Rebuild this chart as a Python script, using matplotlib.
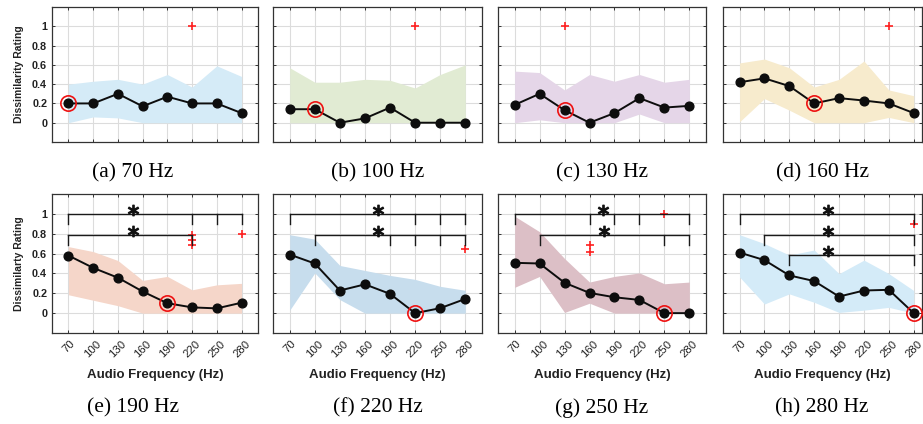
import matplotlib
matplotlib.use('Agg')
import matplotlib.pyplot as plt

plt.rcParams['font.family'] = ['Liberation Sans', 'DejaVu Sans']

freqs = [70, 100, 130, 160, 190, 220, 250, 280]
tick_labels = ['70', '100', '130', '160', '190', '220', '250', '280']
captions = ['(a) 70 Hz', '(b) 100 Hz', '(c) 130 Hz', '(d) 160 Hz',
            '(e) 190 Hz', '(f) 220 Hz', '(g) 250 Hz', '(h) 280 Hz']

# mean rating and shaded band, one set per reference frequency
mean_a = [0.20, 0.20, 0.30, 0.17, 0.27, 0.20, 0.20, 0.10]
hi_a = [0.40, 0.43, 0.45, 0.40, 0.50, 0.37, 0.59, 0.48]
lo_a = [0.00, 0.06, 0.05, 0.00, 0.00, 0.00, 0.00, 0.00]

mean_b = [0.14, 0.14, 0.00, 0.045, 0.157, 0.00, 0.00, 0.00]
hi_b = [0.57, 0.42, 0.42, 0.45, 0.44, 0.36, 0.50, 0.60]
lo_b = [0.00, 0.00, 0.00, 0.00, 0.00, 0.00, 0.00, 0.00]

mean_c = [0.185, 0.30, 0.13, 0.00, 0.10, 0.255, 0.157, 0.175]
hi_c = [0.535, 0.52, 0.34, 0.50, 0.43, 0.50, 0.42, 0.45]
lo_c = [0.00, 0.03, 0.00, 0.00, 0.00, 0.09, 0.00, 0.00]

mean_d = [0.42, 0.46, 0.38, 0.20, 0.255, 0.23, 0.20, 0.10]
hi_d = [0.62, 0.66, 0.57, 0.37, 0.45, 0.64, 0.34, 0.28]
lo_d = [0.01, 0.25, 0.13, 0.00, 0.00, 0.00, 0.055, 0.00]

mean_e = [0.58, 0.456, 0.357, 0.218, 0.10, 0.058, 0.048, 0.105]
hi_e = [0.67, 0.62, 0.53, 0.33, 0.37, 0.235, 0.285, 0.30]
lo_e = [0.185, 0.13, 0.075, 0.00, 0.00, 0.00, 0.00, 0.00]

mean_f = [0.59, 0.50, 0.228, 0.29, 0.194, 0.00, 0.05, 0.143]
hi_f = [0.79, 0.745, 0.48, 0.43, 0.38, 0.34, 0.27, 0.23]
lo_f = [0.03, 0.405, 0.136, 0.00, 0.00, 0.00, 0.00, 0.00]

mean_g = [0.507, 0.50, 0.306, 0.204, 0.16, 0.133, 0.00, 0.00]
hi_g = [0.976, 0.82, 0.55, 0.313, 0.37, 0.405, 0.296, 0.313]
lo_g = [0.26, 0.37, 0.007, 0.10, 0.00, 0.00, 0.00, 0.00]

mean_h = [0.61, 0.534, 0.38, 0.323, 0.167, 0.228, 0.235, 0.00]
hi_h = [0.79, 0.70, 0.585, 0.636, 0.398, 0.534, 0.398, 0.228]
lo_h = [0.364, 0.092, 0.194, 0.109, 0.007, 0.03, 0.058, 0.00]

fills = ['#d5ebf7', '#e1ebd3', '#e5d6e8', '#f7ebcd',
         '#f5d6c9', '#c7dded', '#dcbfc6', '#d4ebf8']

# index of circled (reference) point
best = [0, 1, 2, 3, 4, 5, 6, 7]

# outliers (frequency, rating)
out_a = [(220, 1.0)]
out_b = [(220, 1.0)]
out_c = [(130, 1.0)]
out_d = [(250, 1.0)]
out_e = [(220, 0.79), (220, 0.74), (220, 0.69), (280, 0.80)]
out_f = [(280, 0.65)]
out_g = [(160, 0.687), (160, 0.62), (250, 1.0)]
out_h = [(280, 0.90)]

# significance brackets: (height, tick freqs, star x)
br_e = [(1.0, [70, 220, 250, 280], 148), (0.79, [70, 220], 148)]
br_f = [(1.0, [70, 220, 250, 280], 175), (0.79, [100, 190, 220, 250, 280], 175)]
br_g = [(1.0, [70, 160, 190, 220, 280], 176), (0.79, [100, 250, 280], 177)]
br_h = [(1.0, [70, 280], 177), (0.79, [100, 280], 177), (0.585, [130, 280], 177)]

means = [mean_a, mean_b, mean_c, mean_d, mean_e, mean_f, mean_g, mean_h]
highs = [hi_a, hi_b, hi_c, hi_d, hi_e, hi_f, hi_g, hi_h]
lows = [lo_a, lo_b, lo_c, lo_d, lo_e, lo_f, lo_g, lo_h]
outs = [out_a, out_b, out_c, out_d, out_e, out_f, out_g, out_h]
brackets = [[], [], [], [], br_e, br_f, br_g, br_h]

W, H = 923, 424
fig = plt.figure(figsize=(W / 100, H / 100), dpi=100)

col_left = [52, 273, 498, 723]
col_w = [206, 209, 208, 199]
col_xmax = [300, 300, 300, 290]
row_top = [7, 194]
row_h = [135, 139]
cap_y = [173, 408]
cap_x = [133, 378, 602, 822]

for i in range(8):
    r, c = divmod(i, 4)
    ax = fig.add_axes([col_left[c] / W, 1 - (row_top[r] + row_h[r]) / H,
                       col_w[c] / W, row_h[r] / H])
    ax.fill_between(freqs, lows[i], highs[i], color=fills[i], lw=0, zorder=1)
    ax.plot(freqs, means[i], '-o', color='#0d0d0d', lw=1.4, ms=6.3, zorder=3)
    b = best[i]
    ax.plot(freqs[b], means[i][b], 'o', mfc='none', mec='#ee1111', ms=11, mew=1.2, zorder=4)
    if outs[i]:
        ox, oy = zip(*outs[i])
        ax.plot(ox, oy, '+', color='#ff2020', ms=6, mew=1.2, zorder=4)
    for y, xs, sx in brackets[i]:
        ax.plot([xs[0], xs[-1]], [y, y], color='#1a1a1a', lw=1.0, zorder=4)
        for x in xs:
            ax.plot([x, x], [y, y - 0.1], color='#1a1a1a', lw=1.0, zorder=4)
        # significance star drawn as a marker glyph
        ax.plot(sx, y + 0.04, marker='$*$', color='#111111', ms=7.5, zorder=5)

    ax.set_xlim(50, col_xmax[c])
    ax.set_ylim(-0.2, 1.2)
    ax.set_xticks(freqs)
    ax.set_yticks([0, 0.2, 0.4, 0.6, 0.8, 1.0])
    ax.grid(True, color='#dcdcdc', lw=0.8, zorder=0)
    ax.set_axisbelow(True)
    ax.tick_params(direction='in', length=2.5, width=0.7, top=True, right=True,
                   color='#333333', labelcolor='#222222')
    for s in ax.spines.values():
        s.set_color('#333333')
        s.set_linewidth(0.9)

    if r == 1:
        ax.set_xticklabels(tick_labels, rotation=45, ha='center', fontsize=8.2)
        ax.set_xlabel('Audio Frequency (Hz)', fontsize=9.5, fontweight='bold',
                      color='#222222', labelpad=7)
        ax.tick_params(axis='x', pad=4)
    else:
        ax.set_xticklabels([])
    if c == 0:
        ax.set_yticklabels(['0', '0.2', '0.4', '0.6', '0.8', '1'],
                           fontsize=7.8, fontweight='bold')
        ax.set_ylabel('Dissimilarity Rating' if r == 0 else 'Dissimilarty Rating',
                      fontsize=7.5, fontweight='bold', color='#222222', labelpad=6)
    else:
        ax.set_yticklabels([])

    fig.text(cap_x[c] / W, 1 - cap_y[r] / H, captions[i], ha='center', va='center',
             fontsize=15.5, family=['Liberation Serif', 'DejaVu Serif'])

fig.savefig('out.png', dpi=100)
